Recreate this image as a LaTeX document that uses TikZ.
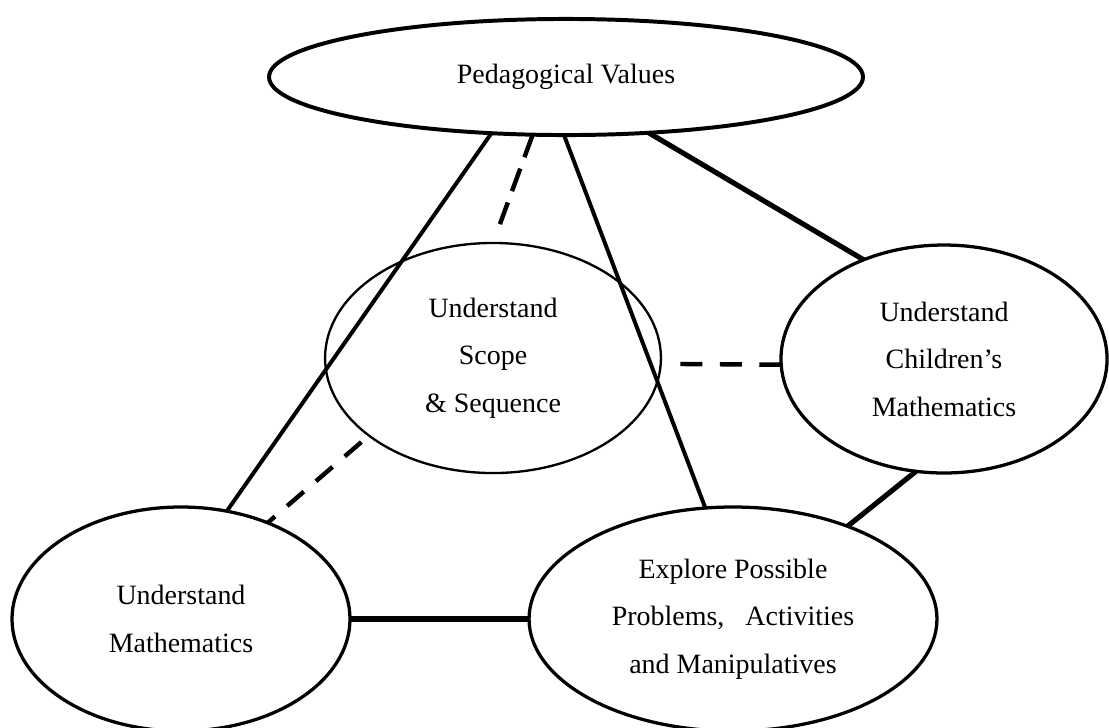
\documentclass[tikz,border=0pt]{standalone}
\usepackage{fontspec}
\setmainfont{Liberation Serif}
\usetikzlibrary{shapes.geometric}
\begin{document}
\begin{tikzpicture}[x=0.429pt, y=-0.429pt,
  bubble/.style={ellipse, draw, line width=1.4pt, inner sep=0pt, outer sep=0pt,
    align=center, font=\fontsize{12}{20.4}\selectfont},
  link/.style={line width=1.7pt},
  heavy/.style={line width=2.2pt},
  dashlink/.style={line width=1.9pt}]
\useasboundingbox (0,0) rectangle (1109,727);

% concepts
\node[bubble, line width=1.7pt, minimum width=254.8pt, minimum height=49.8pt] (ped) at (566,77) {Pedagogical Values};
\node[bubble, line width=1.0pt, minimum width=144.1pt, minimum height=98.7pt] (scope) at (493,358) {Understand\\Scope\\\& Sequence};
\node[bubble, minimum width=139.9pt, minimum height=97.8pt] (child) at (944,359) {Understand\\Children’s\\Mathematics};
\node[bubble, minimum width=145pt, minimum height=96.1pt] (math) at (181,619) {Understand\\Mathematics};
\node[bubble, minimum width=175pt, minimum height=96.1pt] (expl) at (733,619) {Explore Possible\\Problems,\ \ \ Activities\\and Manipulatives};

% solid links
\draw[link] (ped.217.5) -- (math.67.6);
\draw[link] (ped.268) -- (expl.104.5);
\draw[heavy] (ped.326.3) -- (child.129);
\draw[heavy] (child.256.4) -- (expl.39.2);
\draw[heavy, line width=2.3pt] (math.east) -- (expl.west);

% dashed links
\draw[dashlink, dash pattern=on 10.3pt off 5.2pt, shorten >=8.6pt] (ped.240.4) -- (scope.90);
\draw[dashlink, dash pattern=on 9.4pt off 7.5pt, shorten >=7pt] (child.182) -- (scope.358);
\draw[dashlink, dash pattern=on 9.4pt off 6.9pt, dash phase=12pt] (scope.212.7) -- (math.48.3);
\end{tikzpicture}
\end{document}
